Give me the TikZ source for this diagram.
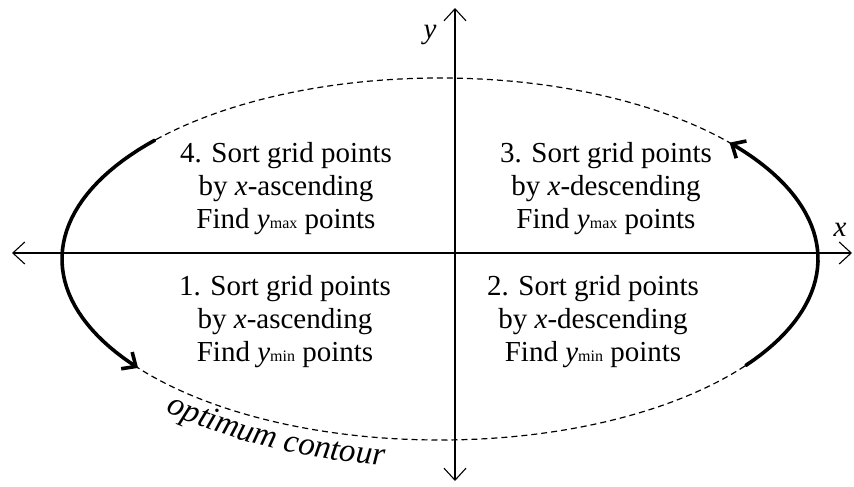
\documentclass[tikz,border=0pt]{standalone}
\usepackage{fontspec}
\setmainfont{Liberation Serif}
\usetikzlibrary{arrows.meta,decorations.text}
\newcommand{\ysub}[1]{\textit{y}{\fontsize{16}{16}\selectfont #1}}
\begin{document}
\begin{tikzpicture}[x=1pt, y=-1pt,
  axis/.style={line width=1.1pt, {Straight Barb[length=12pt,width=22pt]}-{Straight Barb[length=12pt,width=22pt]}},
  quad/.style={align=center, inner sep=0pt, font=\fontsize{29}{33}\selectfont},
  sweep/.style={line width=3.6pt, line cap=round, -{Straight Barb[length=11pt,width=20pt]}}]
  \useasboundingbox (0,0) rectangle (854,487);
  % axes
  \coordinate (xl) at (12,253);
  \coordinate (xr) at (852,253);
  \coordinate (yb) at (455,481);
  \coordinate (yt) at (455,8);
  \draw[axis] (xl) -- (xr);
  \draw[axis] (yb) -- (yt);
  \node[font=\fontsize{29}{29}\selectfont\itshape] (ylab) at (430,35) {y};
  \node[font=\fontsize{29}{29}\selectfont\itshape] (xlab) at (840,230) {x};
  % optimum contour
  \draw[dash pattern=on 6pt off 4pt, line width=1.2pt] (440,259) ellipse [x radius=378pt, y radius=181pt];
  \draw[sweep] plot[domain=139:217, samples=40] ({440+378*cos(\x)}, {259-181*sin(\x)});
  \draw[sweep] plot[domain=-36:40, samples=40] ({440+378*cos(\x)}, {259-181*sin(\x)});
  \path[decorate, decoration={text along path, text align=left,
      text={|\fontsize{33}{33}\selectfont\itshape|optimum contour}}]
    plot[domain=227:282, samples=40] ({440+402*cos(\x)}, {259-208*sin(\x)});
  % quadrants
  \foreach \nm/\px/\py/\num/\dir/\ext in {q4/286/189/4/ascending/max, q3/606/189/3/descending/max,
      q1/285/322/1/ascending/min, q2/593/322/2/descending/min}
    \node[quad] (\nm) at (\px,\py) {\num. Sort grid points\\by \textit{x}-\dir\\Find \ysub{\ext} points};
\end{tikzpicture}
\end{document}
